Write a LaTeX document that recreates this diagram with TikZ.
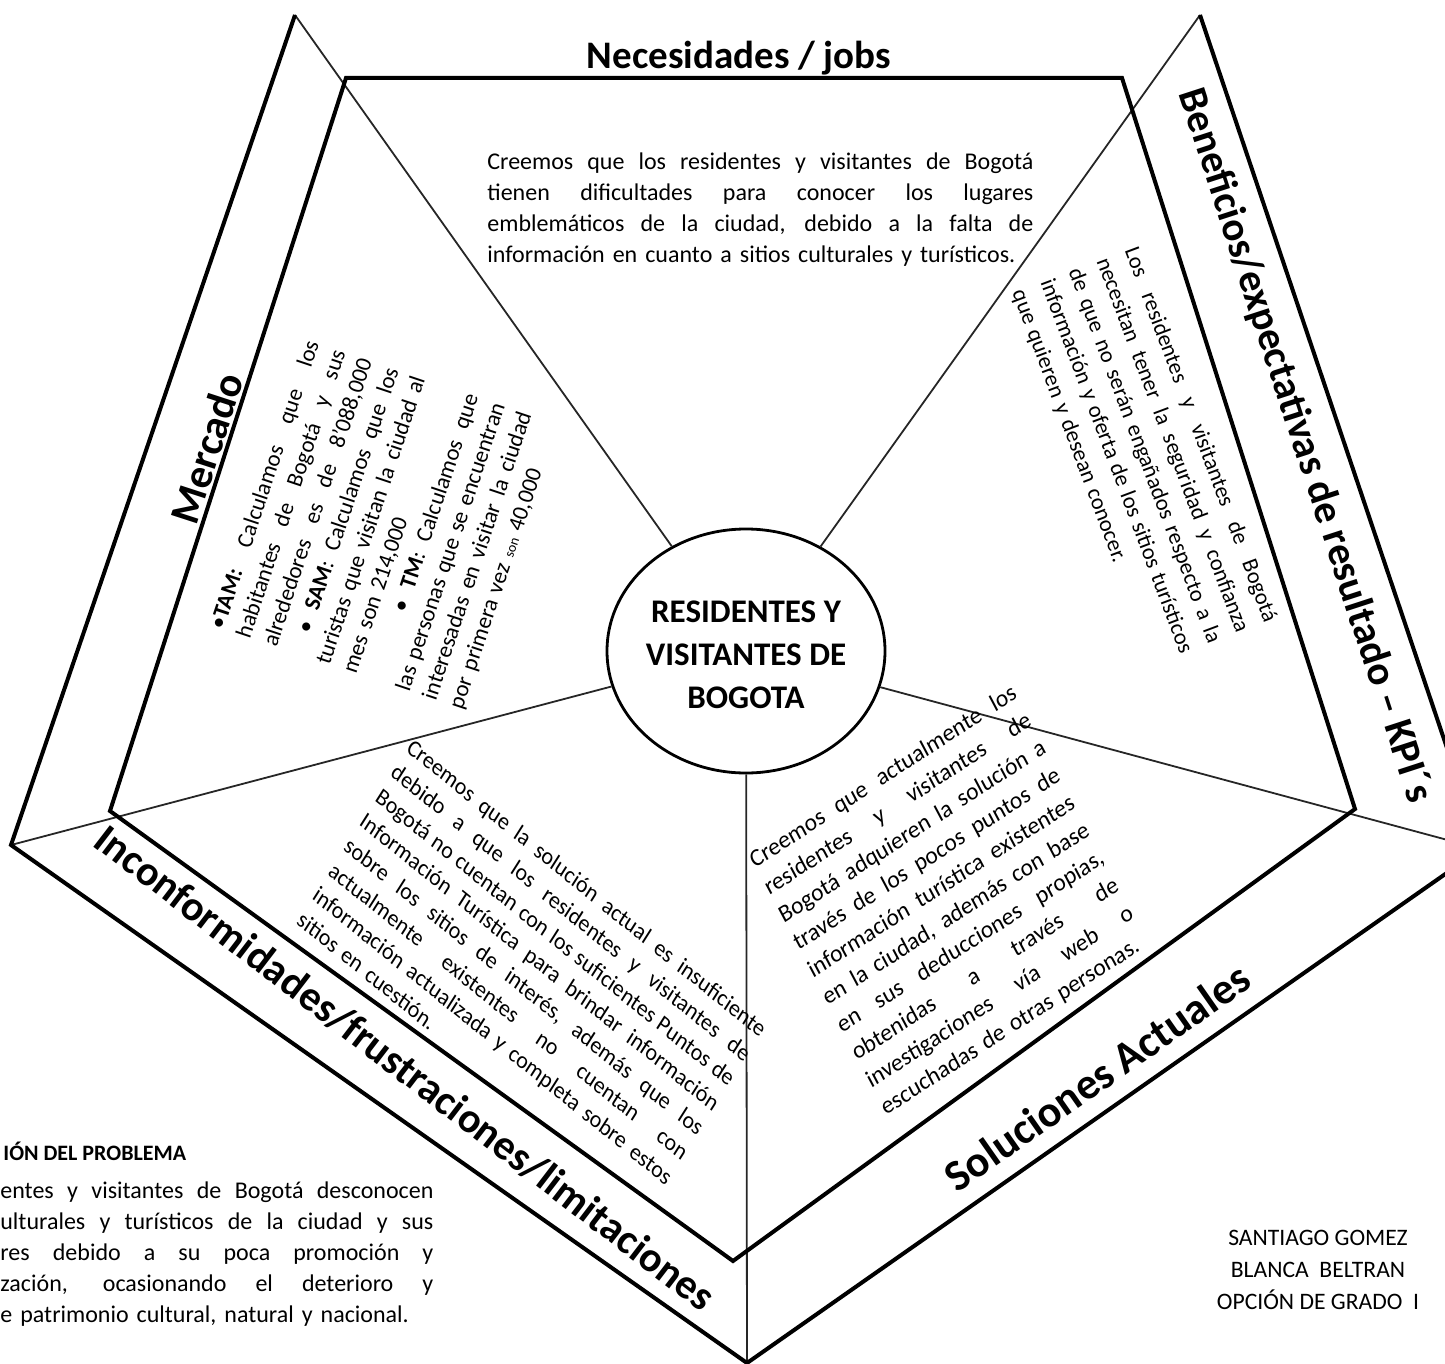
\documentclass[tikz,border=0pt]{standalone}
\usepackage{fontspec}
\setmainfont{Carlito}
\usetikzlibrary{shapes.geometric}
\newcommand{\jl}[1]{\makebox[\hsize][s]{\spaceskip=0pt\xspaceskip=0pt #1}}
\newcommand{\jli}[2]{\hspace*{#1}\makebox[\dimexpr\hsize-#1\relax][s]{\spaceskip=0pt\xspaceskip=0pt #2}}
\begin{document}
\begin{tikzpicture}[x=0.5pt,y=-0.5pt,
  edgeline/.style={line width=2pt, line join=miter, black},
  spoke/.style={line width=0.9pt, black!85},
  bodytext/.style={inner sep=0pt, align=left},
  titletext/.style={inner sep=0pt, font=\bfseries\fontsize{21}{25}\selectfont}]
\useasboundingbox (0,0) rectangle (1445,1364);
\clip (0,0) rectangle (1445,1364);

% inner pentagon
\coordinate (A) at (346,78);
\coordinate (B) at (1122,78);
\coordinate (C) at (1355,809);
\coordinate (D) at (733,1261);
\coordinate (E) at (110,811);
% outer corners
\coordinate (Ao) at (295,15);
\coordinate (Bo) at (1200,15);
\coordinate (Co) at (1481,849);
\coordinate (Do) at (747,1363);
\coordinate (Eo) at (11,845);

\node[ellipse, draw, line width=1.4pt, minimum width=139pt, minimum height=122pt, inner sep=0pt, fill=white] (hub) at (746,651) {};

\draw[spoke] (hub) -- (Ao);
\draw[spoke] (hub) -- (Bo);
\draw[spoke] (hub) -- (Co);
\draw[spoke] (hub) -- (Do);
\draw[spoke] (hub) -- (Eo);

\draw[edgeline] (A) -- (B) -- (C) -- (D) -- (E) -- cycle;
\draw[edgeline] (Ao) -- (Eo) -- (Do) -- (Co) -- (Bo);

\node[inner sep=0pt, align=center, font=\bfseries\fontsize{16.5}{21.5}\selectfont] (hubtext) at (746,655) {RESIDENTES Y\\VISITANTES DE\\BOGOTA};

% titles
\node[inner sep=0pt, font=\bfseries\fontsize{19.5}{23}\selectfont, anchor=base] (necT) at (739,69) {Necesidades / jobs};
\node[titletext, rotate=72] (merT) at (207,448) {Mercado};
\node[titletext, font=\bfseries\fontsize{20.5}{25}\selectfont, rotate=-72] (benT) at (1305,446) {Beneficios/expectativas de resultado – KPI´s};
\node[titletext, font=\bfseries\fontsize{22}{26}\selectfont, rotate=35] (solT) at (1097,1077) {Soluciones Actuales};
\node[titletext, rotate=-37.5] (incT) at (405,1068) {Inconformidades/frustraciones/limitaciones};

% body texts
\node[bodytext, text width=273pt, anchor=north west, font=\fontsize{12}{15.5}\selectfont] (necB) at (487,152)
 {\jl{Creemos que los residentes y visitantes de Bogotá}\\
  \jl{tienen dificultades para conocer los lugares}\\
  \jl{emblemáticos de la ciudad, debido a la falta de}\\
  información en cuanto a sitios culturales y turísticos.};

\node[bodytext, text width=151pt, rotate=71.5, font=\fontsize{11.5}{14}\selectfont] (merB) at (385,525)
 {\jl{•\textbf{TAM:} Calculamos que los}\\
  \jl{habitantes de Bogotá y sus}\\
  \jl{alrededores es de 8'088,000}\\
  \jli{12pt}{• \textbf{SAM}: Calculamos que los}\\
  \jl{turistas que visitan la ciudad al}\\
  mes son 214,000\\
  \jli{37pt}{• \textbf{TM}: Calculamos que}\\
  \jl{las personas que se encuentran}\\
  \jl{interesadas en visitar la ciudad}\\
  por primera vez {\fontsize{7}{8}\selectfont son} 40,000};

\node[bodytext, text width=199pt, rotate=-69.4, font=\fontsize{11.3}{15}\selectfont] (benB) at (1144,456)
 {\jl{Los residentes y visitantes de Bogotá}\\
  \jl{necesitan tener la seguridad y confianza}\\
  \jl{de que no serán engañados respecto a la}\\
  \jl{información y oferta de los sitios turísticos}\\
  que quieren y desean conocer.};

\node[bodytext, text width=228pt, rotate=-39, xslant=-0.115, font=\fontsize{11.5}{14.5}\selectfont] (incB) at (532,974)
 {\jl{Creemos que la solución actual es insuficiente}\\
  \jl{debido a que los residentes y visitantes de}\\
  \jl{Bogotá no cuentan con los suficientes Puntos de}\\
  \jl{Información Turística para brindar información}\\
  \jl{sobre los sitios de interés, además que los}\\
  \jl{actualmente existentes no cuentan con}\\
  \jl{información actualizada y completa sobre estos}\\
  sitios en cuestión.};

\node[bodytext, text width=157pt, rotate=33, xslant=0.089, font=\fontsize{12}{15.5}\selectfont] (solB) at (949,901)
 {\jl{Creemos que actualmente los}\\
  \jl{residentes y visitantes de}\\
  \jl{Bogotá adquieren la solución a}\\
  \jl{través de los pocos puntos de}\\
  \jl{información turística existentes}\\
  \jl{en la ciudad, además con base}\\
  \jl{en sus deducciones propias,}\\
  \jl{obtenidas a través de}\\
  \jl{investigaciones vía web o}\\
  escuchadas de otras personas.};

% problem statement (cut at the left edge)
\node[inner sep=0pt, anchor=base west, font=\bfseries\fontsize{11}{13}\selectfont] (probT) at (3,1160) {IÓN DEL PROBLEMA};
\node[bodytext, text width=216.5pt, anchor=north west, font=\fontsize{12}{15.5}\selectfont] (probB) at (0,1181)
 {\jl{entes y visitantes de Bogotá desconocen}\\
  \jl{ulturales y turísticos de la ciudad y sus}\\
  \jl{res debido a su poca promoción y}\\
  \jl{zación, ocasionando el deterioro y}\\
  e patrimonio cultural, natural y nacional.};

% authors
\node[inner sep=0pt, align=center, font=\fontsize{11.8}{16}\selectfont] (authors) at (1318,1270)
 {SANTIAGO GOMEZ\\BLANCA\ \ BELTRAN\\OPCIÓN DE GRADO\ \ I};
\end{tikzpicture}
\end{document}
